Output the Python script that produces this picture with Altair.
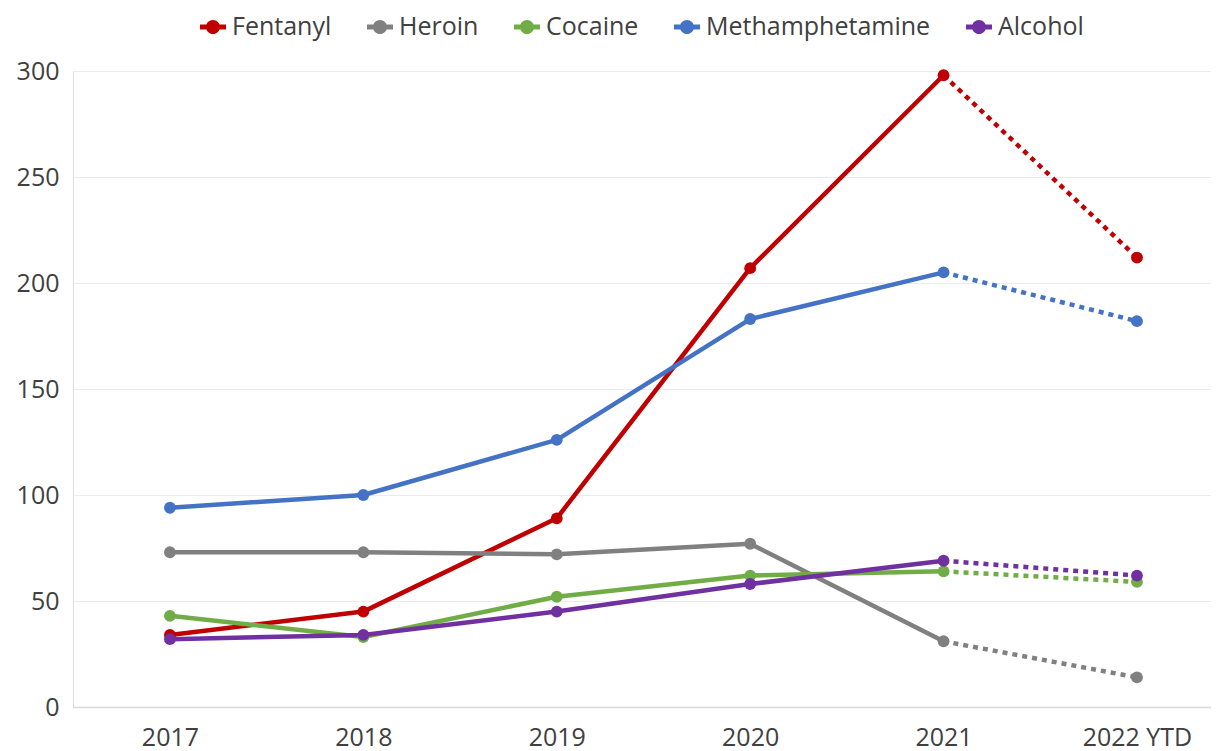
import altair as alt
import pandas as pd

years = ["2017", "2018", "2019", "2020", "2021", "2022 YTD"]
drugs = ["Fentanyl", "Heroin", "Cocaine", "Methamphetamine", "Alcohol"]
colors = ["#c00000", "#808080", "#70ad47", "#4472c4", "#7030a0"]

fentanyl = [34, 45, 89, 207, 298, 212]
heroin = [73, 73, 72, 77, 31, 14]
cocaine = [43, 33, 52, 62, 64, 59]
meth = [94, 100, 126, 183, 205, 182]
alcohol = [32, 34, 45, 58, 69, 62]

series = [fentanyl, heroin, cocaine, meth, alcohol]
rows = []
for d, vals in zip(drugs, series):
    for i, (y, v) in enumerate(zip(years, vals)):
        rows.append({"drug": d, "year": y, "value": v, "idx": i})
df = pd.DataFrame(rows)

FONT = "Open Sans"
TXT = "#404040"

# legend symbol: short line segment with a round marker
LEG_SYMBOL = ("M-1,-0.19L1,-0.19L1,0.19L-1,0.19Z "
              "M0.54,0A0.54,0.54 0 1,1 -0.54,0A0.54,0.54 0 1,1 0.54,0Z")

x = alt.X("year:N", sort=years, title=None,
          scale=alt.Scale(type="point", padding=0.442, align=0.567),
          axis=alt.Axis(labelAngle=0, labelFontSize=25, labelColor=TXT,
                        labelFont=FONT, ticks=False, domain=True,
                        domainColor="#d9d9d9", domainWidth=1.5,
                        labelPadding=18, grid=False))
y = alt.Y("value:Q", title=None,
          scale=alt.Scale(domain=[0, 300], nice=False),
          axis=alt.Axis(values=[0, 50, 100, 150, 200, 250, 300], labelFontSize=25,
                        labelColor=TXT, labelFont=FONT, ticks=False,
                        domain=False, gridColor="#ececec", gridWidth=1.2,
                        labelPadding=14))
color = alt.Color("drug:N", sort=drugs,
                  scale=alt.Scale(domain=drugs, range=colors),
                  legend=alt.Legend(title=None, orient="none", direction="horizontal",
                                    legendX=127, legendY=-57,
                                    symbolType=LEG_SYMBOL, symbolSize=676,
                                    symbolStrokeWidth=0,
                                    labelFontSize=25, labelFont=FONT,
                                    labelColor=TXT, columnPadding=35,
                                    labelOffset=6, labelLimit=400))

base = alt.Chart(df)

solid = base.transform_filter("datum.idx <= 4").mark_line(
    strokeWidth=4.5, strokeCap="round", strokeJoin="round"
).encode(x=x, y=y, color=color, detail="drug:N")

dotted = base.transform_filter("datum.idx >= 4").mark_line(
    strokeWidth=4.5, strokeDash=[5, 5]
).encode(x=x, y=y, color=color, detail="drug:N")

points = base.mark_circle(size=140, opacity=1).encode(x=x, y=y, color=color)

chart = alt.layer(solid, dotted, points).properties(
    width=1138, height=636,
    autosize=alt.AutoSizeParams(type="none"),
    padding={"left": 65, "top": 63, "right": 0, "bottom": 44},
).configure_view(stroke=None).configure(background="white")

chart.save("out.html", embed_options={"renderer": "svg", "actions": False})
